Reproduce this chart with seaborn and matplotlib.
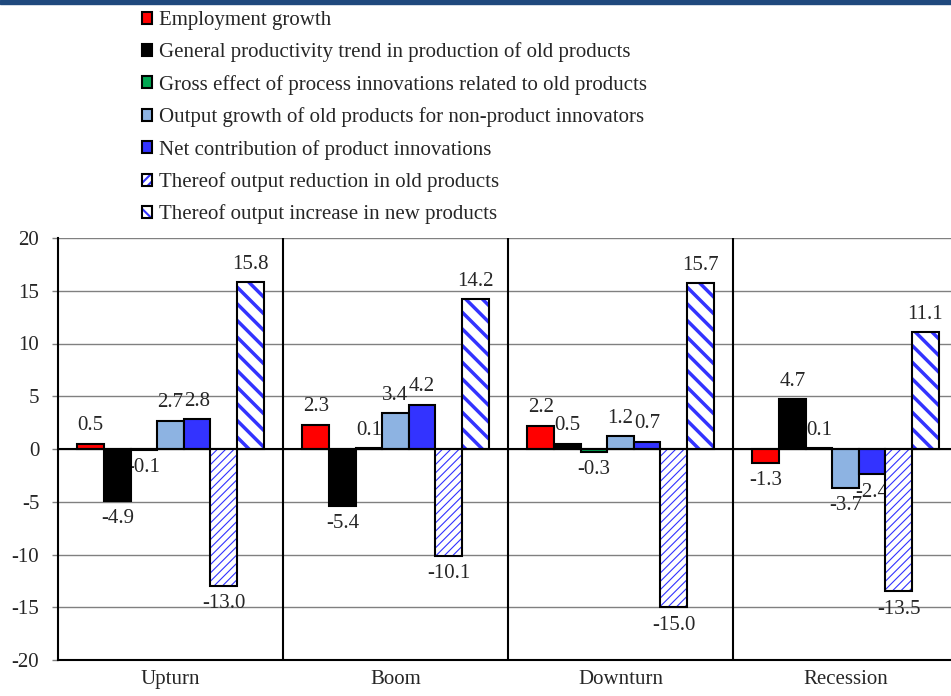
import matplotlib
matplotlib.use("Agg")
import matplotlib.pyplot as plt
import seaborn as sns
import pandas as pd
from matplotlib.patches import Patch, Rectangle

phases = ["Upturn", "Boom", "Downturn", "Recession"]

employment = [0.5, 2.3, 2.2, -1.3]
productivity_trend = [-4.9, -5.4, 0.5, 4.7]
process_innov = [-0.1, 0.1, -0.3, 0.1]
output_non_innov = [2.7, 3.4, 1.2, -3.7]
net_product = [2.8, 4.2, 0.7, -2.4]
reduction_old = [-13.0, -10.1, -15.0, -13.5]
increase_new = [15.8, 14.2, 15.7, 11.1]

labels = [
    "Employment growth",
    "General productivity trend in production of old products",
    "Gross effect of process innovations related to old products",
    "Output growth of old products for non-product innovators",
    "Net contribution of product innovations",
    "Thereof output reduction in old products",
    "Thereof output increase in new products",
]
series = [employment, productivity_trend, process_innov, output_non_innov,
          net_product, reduction_old, increase_new]
fills = ["#FF0000", "#000000", "#00A651", "#8DB3E2", "#3333FF", "#FFFFFF", "#FFFFFF"]
hatch_blue = "#3333FF"
# hatch pattern and hatch line width for the two "Thereof" series
hatches = {5: ("////", 0.8), 6: ("\\\\", 2.5)}

rows = []
for lab, vals in zip(labels, series):
    for ph, v in zip(phases, vals):
        rows.append({"phase": ph, "component": lab, "value": v})
df = pd.DataFrame(rows)

sns.set_style("white")
plt.rcParams["font.family"] = ["Liberation Serif", "DejaVu Serif"]
plt.rcParams["axes.unicode_minus"] = False
plt.rcParams["hatch.linewidth"] = 1.5
FS = 15

fig = plt.figure(figsize=(9.51, 6.96), dpi=100)
ax = fig.add_axes([58 / 951, 1 - 660 / 696, 900 / 951, 422 / 696])

sns.barplot(data=df, x="phase", y="value", hue="component", hue_order=labels,
            palette=dict(zip(labels, fills)), saturation=1, width=0.827,
            errorbar=None, edgecolor="black", linewidth=1.5, legend=False,
            zorder=3, ax=ax)

for i, cont in enumerate(ax.containers):
    if i in hatches:
        h, hlw = hatches[i]
        for p in cont:
            p.set_facecolor("white")
            p.set_edgecolor(hatch_blue)
            p.set_linewidth(0)
            p.set_hatch(h)
            if hasattr(p, "set_hatch_linewidth"):
                p.set_hatch_linewidth(hlw)
            ax.add_patch(Rectangle(p.get_xy(), p.get_width(), p.get_height(),
                                   fill=False, edgecolor="black", lw=1.5, zorder=3.5))
    texts = ax.bar_label(cont, fmt="%.1f", padding=6, fontsize=FS)
    for t in texts:
        t.set_zorder(2)

ax.set_ylim(-20, 20)
ax.set_xlim(-0.5, 3.5)
ax.set_yticks(range(-20, 21, 5))
ax.yaxis.grid(True, color="#808080", lw=1)
ax.set_axisbelow(True)
ax.axhline(0, color="black", lw=1.5, zorder=4)
for xs in [0.5, 1.5, 2.5]:
    ax.axvline(xs, color="black", lw=1.5, zorder=4)

ax.set_xlabel("")
ax.set_ylabel("")
ax.tick_params(axis="x", length=0, pad=7, labelsize=FS)
ax.tick_params(axis="y", length=4.5, width=1, color="#808080", direction="out",
               pad=9, labelsize=FS, left=True)
for s in ["top", "right"]:
    ax.spines[s].set_visible(False)
for s in ["left", "bottom"]:
    ax.spines[s].set_color("black")
    ax.spines[s].set_linewidth(1.5)

handles = []
for i, f in enumerate(fills):
    if i in hatches:
        h, _ = hatches[i]
        handles.append((Patch(facecolor="white", edgecolor=hatch_blue, hatch=h, lw=0),
                        Patch(fill=False, edgecolor="black", lw=1.5)))
    else:
        handles.append(Patch(facecolor=f, edgecolor="black", lw=1.5))

fig.legend(handles, labels, loc="upper left", bbox_to_anchor=(142 / 951, 1 - 11 / 696),
           frameon=False, fontsize=FS, handlelength=0.5, handleheight=0.5,
           handletextpad=0.3, labelspacing=0.6, borderpad=0, borderaxespad=0)

fig.add_artist(Rectangle((0, 1 - 4 / 696), 1, 4 / 696, transform=fig.transFigure,
                         color="#1F497D", zorder=10))

fig.savefig("out.png", dpi=100)
